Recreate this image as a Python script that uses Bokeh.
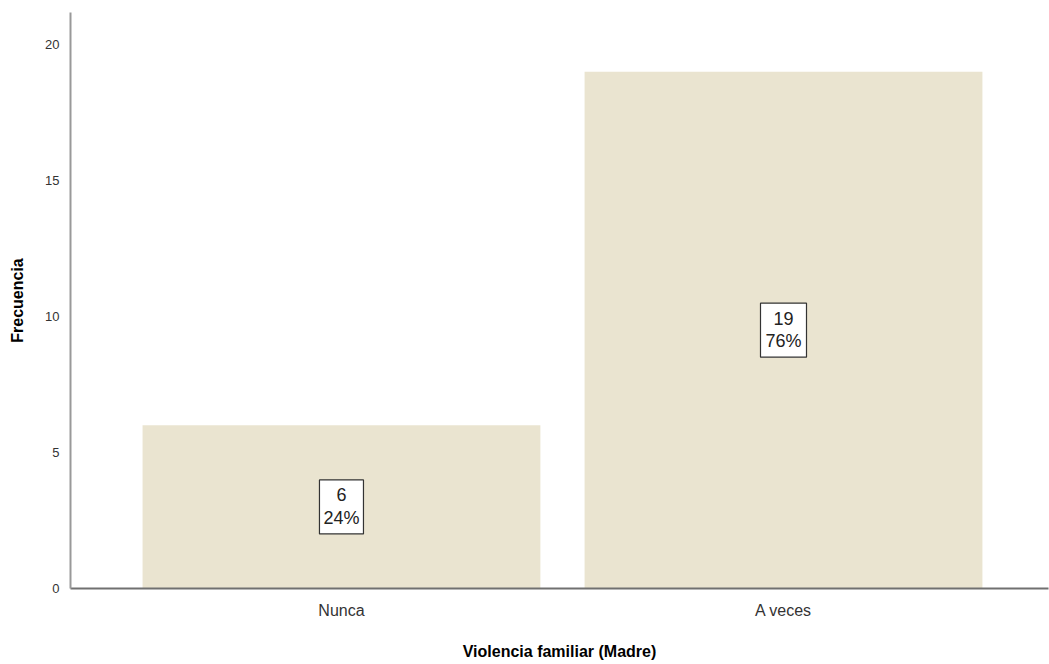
from bokeh.plotting import figure
from bokeh.models import FixedTicker, Range1d, ColumnDataSource
from bokeh.embed import file_html
from bokeh.resources import INLINE
from bokeh.core.properties import value

categories = ["Nunca", "A veces"]
counts = [6, 19]
percents = ["24%", "76%"]
y_ticks = [0, 5, 10, 15, 20]

xs = [i + 1 for i in range(len(categories))]
src = ColumnDataSource(dict(
    x=xs, top=counts, mid=[c / 2 for c in counts],
    count_lbl=[str(c) for c in counts], pct=percents,
    bw=[44 if len(str(c)) == 1 else 46 for c in counts],
))

p = figure(width=1049, height=664, output_backend="svg", toolbar_location=None,
           x_range=Range1d(0.387, 2.5995), y_range=Range1d(0, 21.18),
           min_border_left=70, min_border_right=1, min_border_top=12, min_border_bottom=76)

p.vbar(x="x", top="top", width=0.9, bottom=0, source=src,
       fill_color="#EAE4D0", line_color=None)

p.rect(x="x", y="mid", width="bw", height=54, width_units="screen", height_units="screen",
       source=src, fill_color="white", line_color="#333333", line_width=1.2)
p.text(x="x", y="mid", text="count_lbl", source=src, y_offset=-12,
       text_align="center", text_baseline="middle", text_font=value("Liberation Sans"),
       text_font_size="18px", text_color="#222222")
p.text(x="x", y="mid", text="pct", source=src, y_offset=11,
       text_align="center", text_baseline="middle", text_font=value("Liberation Sans"),
       text_font_size="18px", text_color="#222222")

p.xgrid.visible = False
p.ygrid.visible = False
p.outline_line_color = None

p.xaxis.ticker = FixedTicker(ticks=xs)
p.xaxis.major_label_overrides = {x: c for x, c in zip(xs, categories)}
p.yaxis.ticker = FixedTicker(ticks=y_ticks)

for ax in (p.xaxis[0], p.yaxis[0]):
    ax.major_tick_line_color = None
    ax.minor_tick_line_color = None
    ax.axis_label_text_font = "Liberation Sans"
    ax.axis_label_text_font_style = "bold"
    ax.axis_label_text_font_size = "16px"
    ax.axis_label_text_color = "#000000"
    ax.major_label_text_font = "Liberation Sans"
    ax.major_label_text_color = "#333333"

p.xaxis.axis_label = "Violencia familiar (Madre)"
p.xaxis.axis_line_color = "#707070"
p.xaxis.axis_line_width = 2
p.xaxis.major_label_text_font_size = "16px"
p.xaxis.major_label_standoff = 7
p.xaxis.axis_label_standoff = 21

p.yaxis.axis_label = "Frecuencia"
p.yaxis.axis_line_color = "#999999"
p.yaxis.axis_line_width = 2
p.yaxis.major_label_text_font_size = "13px"
p.yaxis.major_label_standoff = 5
p.yaxis.axis_label_standoff = 16

open("out.html", "w").write(file_html(p, INLINE))
